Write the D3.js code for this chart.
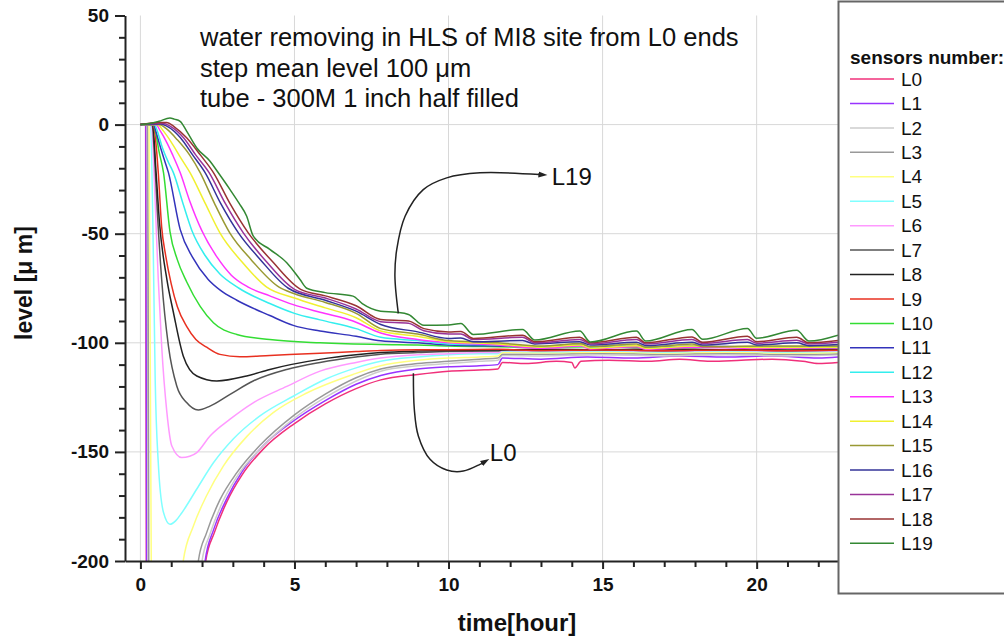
<!DOCTYPE html>
<html>
<head>
<meta charset="utf-8">
<script src="https://cdn.jsdelivr.net/npm/d3@7"></script>
<style>
  body { margin: 0; background: #fff; }
  svg { font-family: Arial, "Liberation Sans", Helvetica, sans-serif; }
</style>
</head>
<body>
<svg id="chart" width="1004" height="641"></svg>
<script>
const hourTicks = [0, 5, 10, 15, 20];
const levelTicks = [50, 0, -50, -100, -150, -200];
const sensorNames = ['L0', 'L1', 'L2', 'L3', 'L4', 'L5', 'L6', 'L7', 'L8', 'L9',
  'L10', 'L11', 'L12', 'L13', 'L14', 'L15', 'L16', 'L17', 'L18', 'L19'];
const sensorColors = ['#f0307a', '#9933ff', '#cccccc', '#999999', '#ffff80', '#80ffff',
  '#ff99ff', '#555555', '#222222', '#e83020', '#33dd33', '#3333bb', '#33eeee', '#ff33ff',
  '#f0f030', '#999933', '#333399', '#993399', '#993333', '#338833'];

// [hour, level um] (values below -200 run off the axis)
const L0 = [[0,0],[0.17,0],[0.2,-260],[1.6,-300],[1.95,-225],[2.12,-200],[2.4,-187],[2.8,-173],[3.3,-160.5],[4,-148.5],[5,-137],[6,-128],[7,-121],[7.8,-117],[9,-114.5],[10,-113],[11,-112.5],[11.6,-112],[11.75,-109],[12.5,-109.5],[13.5,-108.5],[14,-109],[14.1,-111.5],[14.3,-108.5],[15.2,-108],[16.5,-108.5],[17.5,-107.5],[18.5,-108.5],[19.5,-108],[20.5,-107.5],[21.5,-108.5],[22,-109.5],[22.64,-109]];
const L1 = [[0,0],[0.18,0],[0.21,-260],[1.6,-300],[1.93,-225],[2.1,-200],[2.38,-185.5],[2.8,-171.5],[3.3,-159],[4,-147],[5,-135.5],[6,-126.5],[7,-119],[7.8,-115],[9,-112],[10,-111],[11,-110.5],[11.6,-110],[11.75,-107],[13,-107.5],[14.5,-106.5],[16,-107],[17.5,-106],[19,-106.5],[20.5,-106],[22,-107],[22.64,-106.5]];
const L2 = [[0,0],[0.22,0],[0.26,-260],[1.5,-300],[1.82,-225],[2,-200],[2.25,-188],[2.6,-175],[3.1,-162],[3.9,-148.5],[5,-134.5],[6,-125],[7,-117.5],[7.8,-113],[9,-110.5],[10,-109.5],[11,-108.5],[11.6,-108],[11.75,-105.8],[13,-106],[15,-105.5],[17,-106],[19,-105.5],[21,-106],[22.64,-105.5]];
const L3 = [[0,0],[0.24,0],[0.28,-260],[1.45,-295],[1.72,-225],[1.88,-200],[2.15,-187],[2.58,-172],[3.13,-159.5],[3.88,-147],[5,-133],[6,-123.5],[7,-116],[7.8,-112],[9,-109.5],[10,-108.5],[11,-107.5],[11.6,-107],[11.75,-105.2],[13,-105.2],[15,-104.8],[17,-105.3],[19,-104.8],[21,-105.3],[22.64,-105]];
const L4 = [[0,0],[0.28,0],[0.37,-250],[0.8,-290],[1.2,-225],[1.39,-200],[1.72,-184],[2.15,-170],[2.69,-156.5],[3.45,-143],[4.31,-132],[5.4,-123],[6.9,-114.5],[7.8,-110.5],[9,-108],[10,-107],[11,-106.5],[11.6,-106],[11.75,-104.4],[13,-104.6],[15,-104.3],[17,-104.7],[19,-104.3],[21,-104.7],[22.64,-104.4]];
const L5 = [[0,0],[0.33,0],[0.42,-60],[0.48,-117],[0.58,-155],[0.75,-177.8],[0.96,-183.2],[1.15,-181.5],[1.34,-178],[1.83,-167],[2.37,-155],[3.02,-144],[3.88,-133.5],[4.96,-124.5],[6.04,-116.5],[7,-111.5],[7.8,-108.5],[9,-106.5],[10,-105.5],[11,-105],[11.6,-105],[11.75,-103.9],[13,-104.1],[15,-103.8],[17,-104.2],[19,-103.8],[21,-104.2],[22.64,-104]];
const L6 = [[0,0],[0.36,0],[0.45,-25],[0.52,-50],[0.58,-71],[0.69,-101.5],[0.86,-132],[1.02,-147.3],[1.34,-152.6],[1.6,-152],[1.83,-150.3],[2.26,-142.7],[2.91,-135],[3.66,-127.5],[4.75,-120],[5.83,-113],[7,-109],[7.8,-107],[9,-105.5],[10,-105],[11,-104.5],[11.6,-104.5],[11.75,-103.5],[13,-103.7],[15,-103.4],[17,-103.8],[19,-103.4],[21,-103.8],[22.64,-103.6]];
const L7 = [[0,0],[0.38,0],[0.46,-15],[0.55,-40],[0.69,-71],[0.91,-101.5],[1.18,-119.8],[1.5,-127.4],[1.88,-130.8],[2.26,-129],[2.91,-123.6],[3.66,-117.5],[4.75,-112.2],[5.83,-109],[7,-106.5],[7.8,-105.2],[9,-104.5],[10,-104],[11.6,-103.8],[11.75,-103.2],[13,-103.5],[15,-103.2],[17,-103.6],[19,-103.2],[21,-103.6],[22.64,-103.3]];
const L8 = [[0,0],[0.4,0],[0.5,-20],[0.62,-45],[0.86,-71],[1.07,-86],[1.39,-106],[1.83,-115.2],[2.48,-117.5],[3.45,-115.2],[4.2,-112.2],[5.83,-107.6],[7,-105.5],[7.8,-104.5],[9,-103.8],[10,-103.5],[11.6,-103.3],[13,-103],[15,-103.2],[17,-102.8],[19,-103.2],[21,-102.8],[22.64,-103]];
const L9 = [[0,0],[0.4,0],[0.5,-8],[0.58,-22],[0.69,-47],[0.82,-60],[1,-73],[1.2,-83.5],[1.5,-92.5],[1.8,-98.5],[2.15,-102],[2.58,-105.3],[3.23,-106.4],[4.2,-105.8],[5.83,-104.8],[7,-104],[7.8,-103.5],[9,-103.2],[10,-103.2],[11.6,-103],[13,-103.5],[15,-103.3],[17,-103.6],[19,-103.3],[21,-103.6],[22.64,-103.4]];
const L10 = [[0,0],[0.42,0],[0.5,-4],[0.6,-12],[0.75,-22],[0.96,-49],[1.2,-62],[1.5,-72],[1.94,-83.3],[2.37,-90.8],[3.13,-96.2],[4.2,-98.5],[5.83,-100],[7.8,-100.8],[9,-101],[10,-101.5],[11.6,-101.8],[13,-102],[15,-101.8],[17,-102.2],[19,-101.8],[21,-102.2],[22.64,-102]];
const L11 = [[0,0],[0.42,0],[0.5,-3],[0.6,-8],[0.75,-15],[0.91,-22],[1.29,-48],[1.7,-61],[2.2,-71],[2.6,-76],[3.13,-80.5],[4.2,-87.5],[4.96,-92],[5.83,-94.6],[7,-97],[7.8,-99.1],[9,-100],[10,-101],[11.6,-101.5],[13,-101.8],[14.3,-101],[14.6,-102],[16.1,-101.3],[16.4,-102.2],[18,-101.5],[20,-102],[22.64,-101.8]];
const L12 = [[0,0],[0.45,0],[0.55,-3],[0.7,-10],[0.9,-17],[1.07,-22],[1.4,-37],[1.67,-48.5],[2.1,-60],[2.58,-68.5],[3.2,-75],[4.2,-82],[5,-86.5],[5.83,-89.5],[7,-93.5],[7.8,-97.5],[9,-99],[10,-100.5],[11.6,-101],[13,-102],[14.3,-101.3],[14.6,-102.3],[16.1,-101.5],[16.4,-102.5],[18,-101.8],[20,-102.3],[22.64,-102]];
const L13 = [[0,0],[0.5,0],[0.65,-3],[0.85,-8],[1.05,-14],[1.29,-22],[1.6,-35],[1.99,-48.5],[2.5,-61],[2.95,-69],[3.5,-74.5],[4.2,-78.5],[4.96,-82.5],[5.83,-86],[6.9,-90],[7.8,-95.5],[9,-98.5],[10,-100],[11.6,-101],[13,-102.5],[14.3,-101.5],[14.6,-102.8],[16.1,-101.8],[16.4,-103],[18,-102],[20,-102.6],[22.64,-102.3]];
const L14 = [[0,0],[0.55,0],[0.75,-3],[1,-8],[1.3,-15],[1.61,-22],[2.1,-36],[2.58,-49.6],[3.3,-63],[4.1,-74.5],[5,-79.5],[6,-84],[7,-88.5],[7.8,-94.6],[9,-97],[10,-99.5],[11.6,-100.5],[13,-102],[14.3,-101],[14.6,-102.5],[16.1,-101.3],[16.4,-102.6],[18,-101.5],[20,-102.2],[22.64,-102]];
const L15 = [[0,0],[0.6,0],[0.85,-2],[1.2,-7],[1.6,-14],[1.94,-22],[2.4,-36],[2.9,-49.6],[3.6,-62],[4.5,-74.5],[5,-77.5],[6,-81.5],[7,-86.5],[7.8,-93.5],[9,-96],[10,-99],[11.6,-100],[13,-101.5],[14.3,-100.3],[14.6,-101.8],[16.1,-100.5],[16.4,-102],[17.9,-100.5],[18.25,-101.8],[20,-101.5],[22.64,-101.5]];
const L16 = [[0,0],[0.65,0.3],[0.9,-1],[1.3,-6],[1.7,-14],[2.1,-22],[2.6,-36],[3.18,-49.6],[3.9,-62],[4.8,-75],[6,-80.5],[7,-85.5],[7.8,-91.6],[9,-95],[10,-98],[10.4,-97.8],[10.8,-99.5],[12.4,-99],[12.8,-100.5],[14.26,-99.5],[14.6,-101],[16.1,-99.8],[16.4,-101.2],[17.9,-99.8],[18.25,-101],[19.7,-99.8],[20,-101],[21.3,-100],[21.7,-101.3],[22.64,-100.8]];
const L17 = [[0,0],[0.5,0.5],[0.75,0.5],[1,-1],[1.4,-6],[1.8,-14],[2.23,-22],[2.75,-36],[3.34,-49.6],[4.1,-63],[5,-75.5],[6,-79.5],[7,-84.5],[7.8,-90.3],[8.7,-91],[9.2,-94.5],[10,-96],[10.4,-96],[10.8,-98.5],[12.4,-97.5],[12.8,-100],[14.26,-98.5],[14.6,-100.5],[16.1,-98.5],[16.4,-100.5],[17.9,-98.5],[18.25,-100.3],[19.7,-98.5],[20,-100.2],[21.3,-98.8],[21.7,-100.5],[22.64,-99.8]];
const L18 = [[0,0],[0.6,1],[0.85,1],[1.1,-1],[1.5,-6],[1.95,-14],[2.37,-22],[2.9,-36],[3.5,-49.6],[4.3,-63],[5.2,-75.5],[6,-78.5],[7,-83],[7.8,-89.3],[8.7,-90],[9.2,-93.5],[10,-95],[10.4,-94.8],[10.8,-98],[12.4,-96.5],[12.8,-99.5],[14.26,-97.5],[14.6,-100],[16.1,-97.5],[16.4,-100],[17.9,-97.3],[18.25,-99.8],[19.7,-97],[20,-99.5],[21.3,-97.5],[21.7,-100],[22.64,-99]];
const L19 = [[0,0],[0.3,0.5],[0.6,1.5],[0.96,3],[1.1,2.5],[1.29,1.5],[1.5,-3],[1.83,-10.7],[2.26,-16.8],[2.5,-21.5],[2.91,-29.8],[3.2,-36],[3.45,-42],[3.66,-51],[4.2,-57.2],[4.75,-63.3],[5.18,-71],[5.4,-75],[6,-77],[6.9,-78.6],[7.2,-82],[7.8,-85.5],[8.3,-86],[8.7,-87],[9.2,-92],[10,-91.8],[10.4,-91.2],[10.8,-96.2],[12.4,-93.9],[12.8,-98.7],[14.26,-94.6],[14.6,-99.6],[16.1,-94.6],[16.4,-99.2],[17.9,-93.9],[18.25,-98.4],[19.7,-93.4],[20,-97.9],[21.3,-94.3],[21.7,-99.2],[22.64,-96.5]];
const sensorSeries = [L0, L1, L2, L3, L4, L5, L6, L7, L8, L9, L10, L11, L12, L13, L14, L15, L16, L17, L18, L19];

// arrow callouts, in [hour, level]
const arrowL19 = [[8.37,-86.5],[8.26,-69.5],[8.32,-57.2],[8.59,-42],[9.18,-29.8],[9.94,-24.4],[11.02,-22.1],[12.95,-22.9]];
const arrowL0 = [[8.86,-114],[8.89,-130.5],[9.02,-142.7],[9.4,-153.4],[9.94,-158.3],[10.48,-158.8],[11.02,-155.7],[11.1,-155.1]];
const noteLines = ['water removing in HLS of MI8 site from L0 ends', 'step mean level 100 \u03bcm', 'tube - 300M 1 inch half filled'];

const svg = d3.select('#chart');
const x = d3.scaleLinear().domain([-0.5, 22.64]).range([125, 838]);
const y = d3.scaleLinear().domain([-200, 50]).range([561, 15.5]);

const defs = svg.append('defs');
defs.append('clipPath').attr('id', 'plot').append('rect')
  .attr('x', 125).attr('y', 15).attr('width', 713).attr('height', 546);
defs.append('marker').attr('id', 'head')
  .attr('markerUnits', 'userSpaceOnUse')
  .attr('markerWidth', 10).attr('markerHeight', 8)
  .attr('refX', 1).attr('refY', 4).attr('orient', 'auto')
  .append('path').attr('d', 'M0,1 L9,4 L0,7 Z').attr('fill', '#222');

// grid
const grid = svg.append('g').attr('stroke', '#d8d8d8').attr('stroke-width', 1);
grid.selectAll('.gx').data(hourTicks).enter().append('line')
  .attr('x1', d => x(d)).attr('x2', d => x(d))
  .attr('y1', y(50)).attr('y2', y(-200));
grid.selectAll('.gy').data(levelTicks.filter(d => d > -200 && d < 50)).enter().append('line')
  .attr('x1', x(-0.5)).attr('x2', x(22.64))
  .attr('y1', d => y(d)).attr('y2', d => y(d));

// curves
const line = d3.line().x(d => x(d[0])).y(d => y(d[1])).curve(d3.curveMonotoneX);
svg.append('g').attr('clip-path', 'url(#plot)')
  .selectAll('path').data(sensorSeries).enter().append('path')
  .attr('d', line)
  .attr('fill', 'none')
  .attr('stroke', (d, i) => sensorColors[i])
  .attr('stroke-width', 1.5)
  .attr('stroke-linejoin', 'round');

// axes
const styleAxis = (g, size) => {
  g.select('.domain').attr('stroke', '#222').attr('stroke-width', 2);
  g.selectAll('.tick line').attr('stroke', '#222').attr('stroke-width', 2);
  g.selectAll('.tick text').attr('fill', '#111')
    .style('font-size', size + 'px').style('font-weight', 'bold');
};

const minorLevels = d3.range(-200, 51, 10).filter(d => !levelTicks.includes(d));
const minorHours = d3.range(0, 23, 1).filter(d => !hourTicks.includes(d));

svg.append('g').attr('transform', 'translate(125,0)')
  .call(d3.axisLeft(y).tickValues(minorLevels).tickSize(6).tickFormat(''))
  .call(g => { g.select('.domain').remove(); g.selectAll('line').attr('stroke', '#222').attr('stroke-width', 2); });
svg.append('g').attr('transform', 'translate(0,561)')
  .call(d3.axisBottom(x).tickValues(minorHours).tickSize(6).tickFormat(''))
  .call(g => { g.select('.domain').remove(); g.selectAll('line').attr('stroke', '#222').attr('stroke-width', 2); });

svg.append('g').attr('transform', 'translate(125,0)')
  .call(d3.axisLeft(y).tickValues(levelTicks).tickSize(10).tickSizeOuter(0).tickPadding(6).tickFormat(d => String(d)))
  .call(g => styleAxis(g, 19));
svg.append('g').attr('transform', 'translate(0,561)')
  .call(d3.axisBottom(x).tickValues(hourTicks).tickSize(8).tickSizeOuter(0).tickPadding(9).tickFormat(d => String(d)))
  .call(g => styleAxis(g, 19));

svg.append('text').attr('x', 517).attr('y', 631)
  .attr('text-anchor', 'middle').style('font-size', '24px').style('font-weight', 'bold')
  .attr('fill', '#111').text('time[hour]');
svg.append('text').attr('transform', 'translate(32,283) rotate(-90)')
  .attr('text-anchor', 'middle').style('font-size', '23px').style('font-weight', 'bold')
  .attr('fill', '#111').text('level [\u03bc m]');

// notes
svg.append('g').selectAll('text').data(noteLines).enter().append('text')
  .attr('x', 200).attr('y', (d, i) => 46 + i * 30.5)
  .style('font-size', '25.5px').attr('fill', '#111').text(d => d);

// callouts
const arrowLine = d3.line().x(d => x(d[0])).y(d => y(d[1])).curve(d3.curveCatmullRom);
[arrowL19, arrowL0].forEach(pts => {
  svg.append('path').attr('d', arrowLine(pts))
    .attr('fill', 'none').attr('stroke', '#222').attr('stroke-width', 1.5)
    .attr('marker-end', 'url(#head)');
});
svg.append('text').attr('x', x(13.35)).attr('y', y(-23.8)).attr('dy', '0.35em')
  .style('font-size', '24px').attr('fill', '#111').text('L19');
svg.append('text').attr('x', x(11.34)).attr('y', y(-150.2)).attr('dy', '0.35em')
  .style('font-size', '24px').attr('fill', '#111').text('L0');

// legend
const legend = svg.append('g');
legend.append('rect').attr('x', 838.5).attr('y', 1.5).attr('width', 200).attr('height', 592)
  .attr('fill', '#fff').attr('stroke', '#666').attr('stroke-width', 2);
legend.append('text').attr('x', 850).attr('y', 64)
  .style('font-size', '19px').style('font-weight', 'bold').attr('fill', '#111')
  .text('sensors number:');
const items = legend.selectAll('.item').data(sensorNames).enter().append('g')
  .attr('transform', (d, i) => `translate(0,${79 + i * 24.44})`);
items.append('line').attr('x1', 850).attr('x2', 894)
  .attr('stroke', (d, i) => sensorColors[i]).attr('stroke-width', 1.5);
items.append('text').attr('x', 901).attr('dy', '0.35em')
  .style('font-size', '19px').attr('fill', '#111').text(d => d);
</script>
</body>
</html>
